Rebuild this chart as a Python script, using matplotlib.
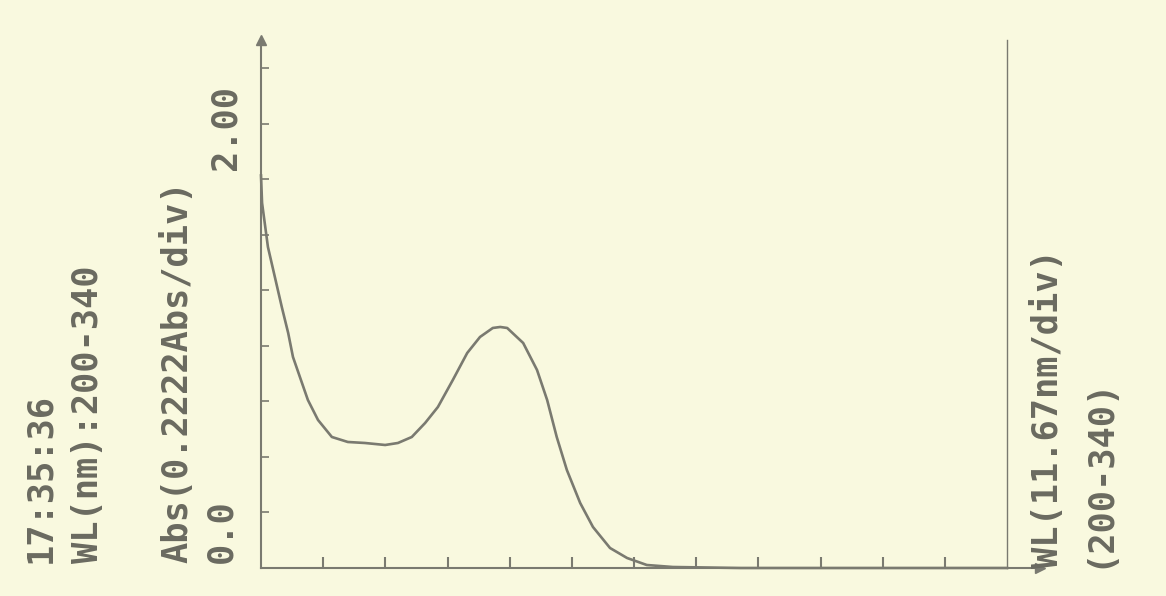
import matplotlib
matplotlib.use("Agg")
import matplotlib.pyplot as plt

# absorbance scan, 200-340 nm
wavelength = [200.0, 200.2, 201.3, 202.6, 203.9, 205.1, 206.0, 207.3, 208.8, 210.7,
              213.3, 216.3, 219.5, 223.3, 225.7, 228.3, 230.8, 233.2, 236.0, 238.7,
              241.1, 243.5, 244.9, 246.2, 249.2, 251.8, 253.7, 255.5, 257.4, 259.9,
              262.3, 265.5, 268.7, 272.4, 277.3, 290.0, 310.0, 340.0]
absorbance = [1.57, 1.46, 1.284, 1.164, 1.044, 0.94, 0.844, 0.764, 0.672, 0.592,
              0.524, 0.504, 0.50, 0.492, 0.50, 0.524, 0.58, 0.644, 0.752, 0.86,
              0.924, 0.96, 0.964, 0.96, 0.90, 0.792, 0.672, 0.524, 0.392, 0.26,
              0.164, 0.08, 0.04, 0.012, 0.004, 0.0, 0.0, 0.0]

wl_start, wl_end = 200, 340
wl_div = 11.67
abs_div = 0.2222
n_wl_div = 12
n_abs_div = 9

paper = "#f9f9df"
ink = "#7a7a70"
text_ink = "#6a6a60"

W, H = 1166, 596
fig = plt.figure(figsize=(W / 100, H / 100), dpi=100, facecolor=paper)
ax = fig.add_axes([261 / W, 1 - 568 / H, 746 / W, 500 / H])
ax.set_facecolor(paper)
ax.set_xlim(wl_start, wl_end)
ax.set_ylim(0, n_abs_div * abs_div)
for s in ax.spines.values():
    s.set_visible(False)

ax.plot(wavelength, absorbance, color=ink, lw=1.9, clip_on=False,
        solid_joinstyle="round")

# axes drawn by hand so they run past the plot area with arrow heads
y_top = 2.112
x_right = 346.2
ax.plot([wl_start, wl_start], [0, y_top], color=ink, lw=1.5, clip_on=False)
ax.plot([wl_start, x_right], [0, 0], color=ink, lw=1.5, clip_on=False)
ax.plot([wl_end, wl_end], [0, y_top], color=ink, lw=1.0, clip_on=False)
ax.plot([wl_start], [y_top], marker="^", ms=7, color=ink, clip_on=False)
ax.plot([x_right], [0], marker=">", ms=7, color=ink, clip_on=False)

ax.set_xticks([wl_start + wl_div * k for k in range(1, n_wl_div)])
ax.set_yticks([abs_div * k for k in range(1, n_abs_div + 1)])
ax.set_xticklabels([])
ax.set_yticklabels([])
ax.tick_params(axis="x", direction="in", length=8, width=1.5, color=ink)
ax.tick_params(axis="y", direction="in", length=6, width=1.2, color=ink)

font = dict(family="DejaVu Sans Mono", fontsize=25.5, fontweight="bold",
            color=text_ink, rotation=90, rotation_mode="anchor",
            ha="left", va="center")

def label(x, y, s):
    fig.text(x / W, 1 - y / H, s, **font)

label(40, 563, "17:35:36")
label(88, 563, "WL(nm):200-340")
label(177, 563, "Abs(0.2222Abs/div)")
label(221, 563, "0.0")
label(225, 170, "2.00")
label(1048, 568, "WL(11.67nm/div)")
label(1098, 568, "(200-340)")

fig.savefig("out.png", dpi=100, facecolor=paper)
